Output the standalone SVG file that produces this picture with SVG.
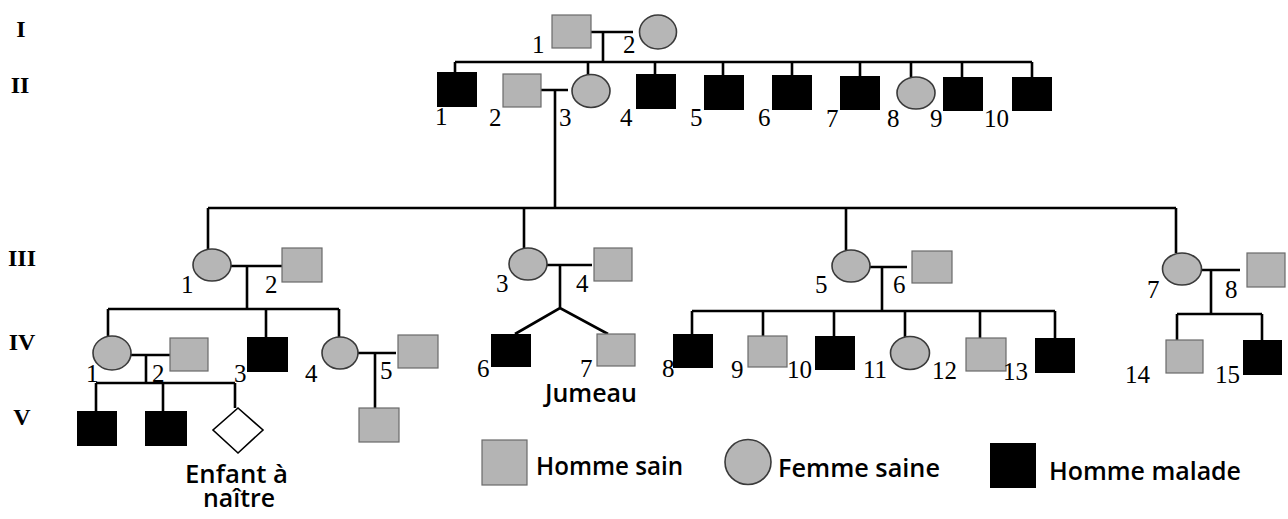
<svg xmlns="http://www.w3.org/2000/svg" width="1288" height="519" viewBox="0 0 1288 519">
<style>
.bg{fill:#ffffff}
.aff{fill:#000000}
.sain{fill:#b4b4b4;stroke:#6a6a6a;stroke-width:1.2}
.fem{fill:#b6b6b6;stroke:#3a3a3a;stroke-width:1.6}
.unk{fill:#ffffff;stroke:#000000;stroke-width:1.6}
.ln{fill:none;stroke:#000000;stroke-width:2.6;stroke-linejoin:miter}
.num{font-family:"Liberation Serif","Times New Roman",serif;font-size:25px;fill:#000}
.gen{font-family:"Liberation Serif","Times New Roman",serif;font-size:24px;font-weight:bold;fill:#000;text-anchor:middle}
.lab{font-family:"Open Sans","Liberation Sans",sans-serif;font-size:25px;font-weight:600;fill:#000}
</style>
<rect class="bg" x="0" y="0" width="1288" height="519"/>

<g id="generations">
<text class="gen" x="21" y="37">I</text>
<text class="gen" x="20" y="93">II</text>
<text class="gen" x="22" y="266">III</text>
<text class="gen" x="22" y="350">IV</text>
<text class="gen" x="22" y="425">V</text>
</g>

<g id="connectors">
<path class="ln" d="M591 32 H633 M603 32 V62"/>
<path class="ln" d="M455 62 H1032 M455 62 V72 M588 62 V75 M655 62 V74 M723 62 V75 M792 62 V75 M860 62 V76 M911 62 V77 M962 62 V77 M1032 62 V77"/>
<path class="ln" d="M541 90 H568 M555 90 V208"/>
<path class="ln" d="M208 208 H1176 M208 208 V249 M524 208 V248 M846 208 V250 M1176 208 V253"/>
<path class="ln" d="M231 266 H282 M247 266 V309"/>
<path class="ln" d="M108 309 H339 M108 309 V337 M266 309 V337 M339 309 V337"/>
<path class="ln" d="M547 265 H592 M560 265 V308 M515 334 L560 308 L608 334"/>
<path class="ln" d="M870 267 H907 M882 267 V311"/>
<path class="ln" d="M692 311 H1055 M692 311 V334 M763 311 V336 M834 311 V336 M905 311 V337 M980 311 V338 M1055 311 V338"/>
<path class="ln" d="M1200 270 H1240 M1211 270 V314"/>
<path class="ln" d="M1177 314 H1262 M1177 314 V340 M1262 314 V340"/>
<path class="ln" d="M130 355 H170 M146 355 V383"/>
<path class="ln" d="M96 383 H235 M96 383 V411 M163 383 V411 M235 383 V408"/>
<path class="ln" d="M358 353 H396 M375 353 V408"/>
</g>

<g id="I-1"><rect class="sain" x="552" y="15" width="39" height="33"/><text class="num" x="532" y="53">1</text></g>
<g id="I-2"><ellipse class="fem" cx="658" cy="32" rx="18.5" ry="17"/><text class="num" x="623" y="53">2</text></g>

<g id="II-1"><rect class="aff" x="437" y="72" width="40" height="35"/><text class="num" x="435" y="125">1</text></g>
<g id="II-2"><rect class="sain" x="503" y="74" width="38" height="33"/><text class="num" x="489" y="126">2</text></g>
<g id="II-3"><ellipse class="fem" cx="591" cy="91" rx="19" ry="16.5"/><text class="num" x="559" y="126">3</text></g>
<g id="II-4"><rect class="aff" x="636" y="74" width="40" height="35"/><text class="num" x="620" y="126">4</text></g>
<g id="II-5"><rect class="aff" x="704" y="75" width="40" height="35"/><text class="num" x="690" y="126">5</text></g>
<g id="II-6"><rect class="aff" x="772" y="75" width="40" height="35"/><text class="num" x="758" y="126">6</text></g>
<g id="II-7"><rect class="aff" x="840" y="76" width="40" height="34"/><text class="num" x="826" y="127">7</text></g>
<g id="II-8"><ellipse class="fem" cx="916" cy="93" rx="19" ry="16"/><text class="num" x="887" y="127">8</text></g>
<g id="II-9"><rect class="aff" x="943" y="77" width="40" height="34"/><text class="num" x="930" y="127">9</text></g>
<g id="II-10"><rect class="aff" x="1012" y="77" width="40" height="34"/><text class="num" x="984" y="127">10</text></g>

<g id="III-1"><ellipse class="fem" cx="212" cy="265" rx="19" ry="16"/><text class="num" x="181" y="293">1</text></g>
<g id="III-2"><rect class="sain" x="282" y="248" width="40" height="34"/><text class="num" x="265" y="293">2</text></g>
<g id="III-3"><ellipse class="fem" cx="528" cy="264" rx="19" ry="16"/><text class="num" x="496" y="292">3</text></g>
<g id="III-4"><rect class="sain" x="594" y="248" width="38" height="33"/><text class="num" x="576" y="292">4</text></g>
<g id="III-5"><ellipse class="fem" cx="851" cy="266" rx="19" ry="16"/><text class="num" x="815" y="293">5</text></g>
<g id="III-6"><rect class="sain" x="912" y="251" width="40" height="32"/><text class="num" x="893" y="293">6</text></g>
<g id="III-7"><ellipse class="fem" cx="1182" cy="269" rx="19.5" ry="16"/><text class="num" x="1147" y="298">7</text></g>
<g id="III-8"><rect class="sain" x="1247" y="253" width="38" height="34"/><text class="num" x="1225" y="298">8</text></g>

<g id="IV-1"><ellipse class="fem" cx="112" cy="353" rx="19" ry="17"/><text class="num" x="86" y="382">1</text></g>
<g id="IV-2"><rect class="sain" x="170" y="338" width="38" height="33"/><text class="num" x="152" y="382">2</text></g>
<g id="IV-3"><rect class="aff" x="247" y="337" width="41" height="35"/><text class="num" x="234" y="382">3</text></g>
<g id="IV-4"><ellipse class="fem" cx="340" cy="353" rx="18" ry="16"/><text class="num" x="305" y="382">4</text></g>
<g id="IV-5"><rect class="sain" x="398" y="335" width="40" height="33"/><text class="num" x="380" y="379">5</text></g>
<g id="IV-6"><rect class="aff" x="491" y="334" width="40" height="33"/><text class="num" x="477" y="377">6</text></g>
<g id="IV-7"><rect class="sain" x="597" y="334" width="38" height="32"/><text class="num" x="580" y="377">7</text></g>
<g id="IV-8"><rect class="aff" x="673" y="334" width="40" height="34"/><text class="num" x="662" y="377">8</text></g>
<g id="IV-9"><rect class="sain" x="748" y="336" width="39" height="31"/><text class="num" x="731" y="378">9</text></g>
<g id="IV-10"><rect class="aff" x="815" y="336" width="40" height="34"/><text class="num" x="787" y="378">10</text></g>
<g id="IV-11"><ellipse class="fem" cx="910" cy="353" rx="19.5" ry="16.5"/><text class="num" x="863" y="378">11</text></g>
<g id="IV-12"><rect class="sain" x="966" y="338" width="40" height="33"/><text class="num" x="932" y="379">12</text></g>
<g id="IV-13"><rect class="aff" x="1035" y="338" width="40" height="35"/><text class="num" x="1003" y="380">13</text></g>
<g id="IV-14"><rect class="sain" x="1166" y="340" width="37" height="33"/><text class="num" x="1125" y="383">14</text></g>
<g id="IV-15"><rect class="aff" x="1243" y="340" width="39" height="35"/><text class="num" x="1215" y="383">15</text></g>
<g id="twins-label"><text class="lab" x="545" y="402" textLength="92" lengthAdjust="spacingAndGlyphs">Jumeau</text></g>

<g id="V-1"><rect class="aff" x="77" y="411" width="40" height="35"/></g>
<g id="V-2"><rect class="aff" x="145" y="411" width="42" height="35"/></g>
<g id="V-3"><polygon class="unk" points="238,408 263,430 238,453 213,430"/>
<text class="lab" x="185" y="483" textLength="103" lengthAdjust="spacingAndGlyphs">Enfant à</text>
<text class="lab" x="203" y="507" textLength="72" lengthAdjust="spacingAndGlyphs">naître</text></g>
<g id="V-4"><rect class="sain" x="359" y="408" width="40" height="34"/></g>

<g id="legend">
<rect class="sain" x="482" y="440" width="45" height="45"/>
<text class="lab" x="536" y="475" textLength="147" lengthAdjust="spacingAndGlyphs">Homme sain</text>
<ellipse class="fem" cx="748" cy="462" rx="23" ry="22.5"/>
<text class="lab" x="778" y="477" textLength="162" lengthAdjust="spacingAndGlyphs">Femme saine</text>
<rect class="aff" x="990" y="443" width="46" height="45"/>
<text class="lab" x="1049" y="480" textLength="192" lengthAdjust="spacingAndGlyphs">Homme malade</text>
</g>
</svg>
